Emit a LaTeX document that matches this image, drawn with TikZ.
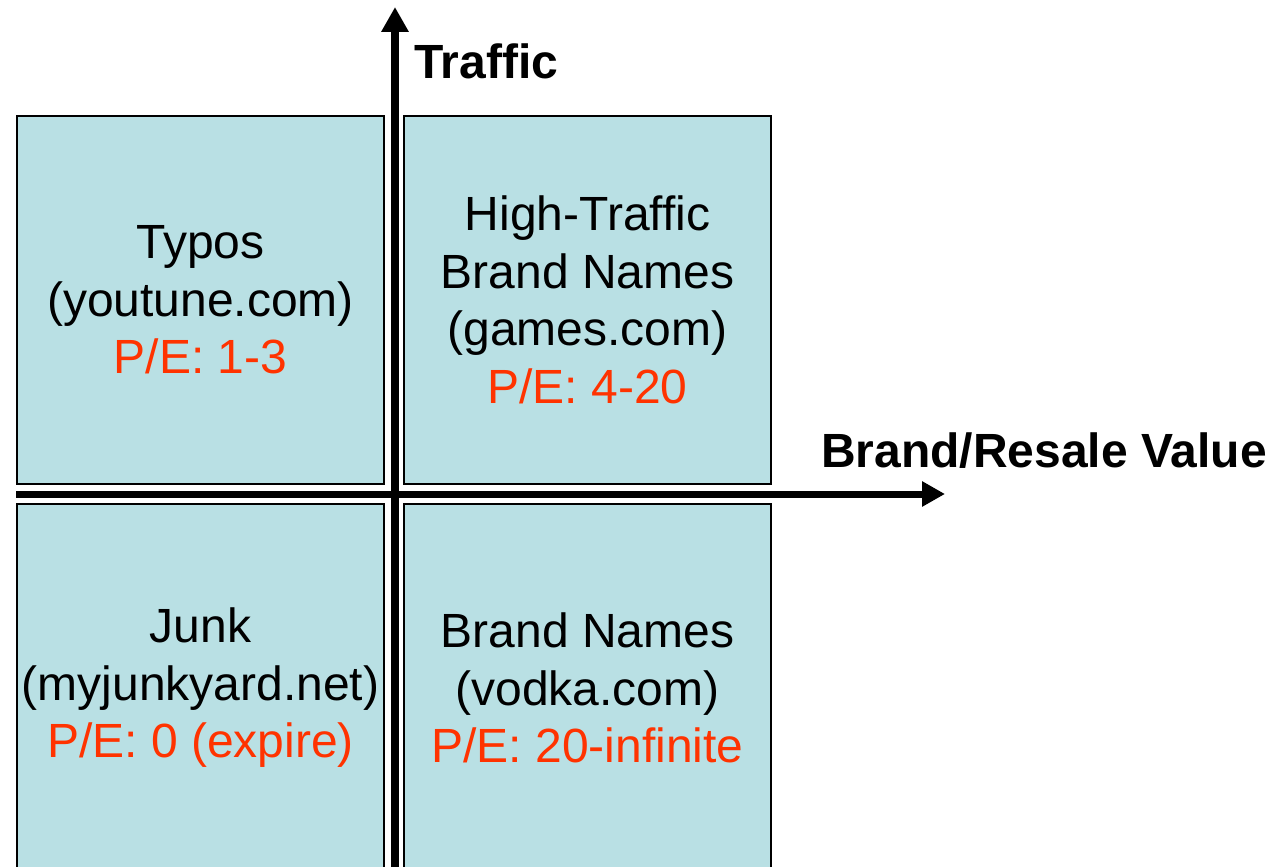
\documentclass[tikz,border=0pt]{standalone}
\usepackage{fontspec}
\setmainfont{Liberation Sans}
\usetikzlibrary{arrows.meta}
\definecolor{boxfill}{RGB}{185,224,228}
\definecolor{pered}{RGB}{255,51,0}
\tikzset{
  quad/.style={draw=black, line width=2pt, fill=boxfill, minimum width=367pt, minimum height=368pt,
    inner sep=0pt, align=center, font=\fontsize{48}{57.5}\selectfont},
  axis/.style={line width=8pt, -{Triangle[length=25pt,width=26pt]}},
  haxis/.style={line width=7pt, -{Triangle[length=23pt,width=24pt]}},
  axlabel/.style={font=\fontsize{48}{57.5}\selectfont\bfseries, inner sep=0pt, anchor=base west}
}
\begin{document}
\begin{tikzpicture}[x=1pt,y=-1pt]
\useasboundingbox (0,0) rectangle (1283,867);
\node[quad] (tl) at (200.5,300) {Typos\\(youtune.com)\\\textcolor{pered}{P/E: 1-3}};
\node[quad] (tr) at (587.5,300) {High-Traffic\\Brand Names\\(games.com)\\\textcolor{pered}{P/E: 4-20}};
\node[quad] (bl) at (200.5,688) {Junk\\(myjunkyard.net)\\\textcolor{pered}{P/E: 0 (expire)}};
\node[quad] (br) at (587.5,688) {Brand Names\\(vodka.com)\\\textcolor{pered}{P/E: 20-infinite}};
\coordinate (vstart) at (395,880);
\coordinate (vend) at (395,7);
\coordinate (hstart) at (16,494);
\coordinate (hend) at (945,494);
\draw[axis] (vstart) -- (vend);
\draw[haxis] (hstart) -- (hend);
\node[axlabel] (traffic) at (414,79) {Traffic};
\node[axlabel] (brand) at (821,467) {Brand/Resale Value};
\end{tikzpicture}
\end{document}
